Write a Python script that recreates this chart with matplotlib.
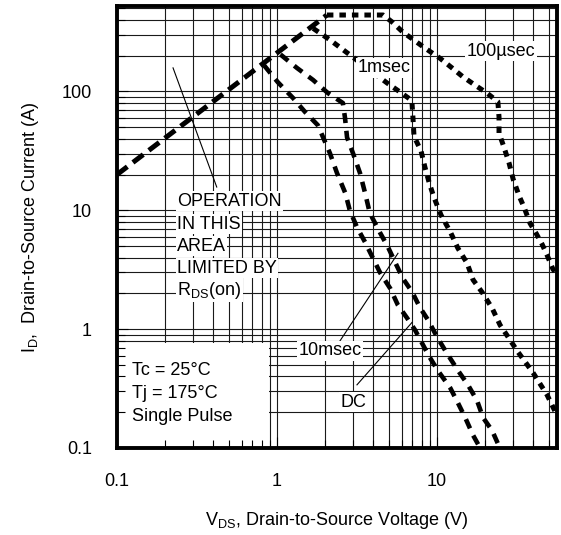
import numpy as np
import matplotlib.pyplot as plt
from matplotlib.patches import Rectangle

plt.rcParams['font.family'] = ['Liberation Sans', 'DejaVu Sans']
plt.rcParams['mathtext.default'] = 'regular'

# Safe operating area (V in volts, I in amps)
rds_v = [0.1, 2.05]
rds_i = [20, 440]

us100_v = [2.05, 4.6, 5.23, 6.1, 8.4, 10.4, 12.4, 14.5, 17.3, 20.5, 24.0, 24.4, 24.4,
           26.2, 28.2, 29.9, 32.6, 35.0, 38.1, 41.6, 45.3, 48.7, 53.0, 56.0]
us100_i = [440, 440, 385, 317, 232, 191, 158, 133, 113, 97, 82, 61, 44.7,
           34, 25, 18.3, 13.2, 10.6, 7.8, 6.4, 5.2, 4.2, 3.2, 2.9]

ms1_v = [1.68, 2.14, 2.7, 4.87, 5.87, 6.96, 7.08, 7.18, 7.95, 8.4, 8.95, 9.6, 10.6,
         12.1, 13.5, 15.4, 16.8, 19.1, 22.1, 24.8, 27.8, 31.6, 39.8, 48.7, 56.0]
ms1_i = [340, 272, 215, 118, 99, 84, 58.7, 42, 31.5, 23.1, 16.9, 12.7, 9.1,
         6.6, 4.8, 3.6, 2.6, 2.05, 1.5, 1.08, 0.86, 0.66, 0.43, 0.28, 0.19]

ms10_v = [1.05, 1.33, 1.68, 2.08, 2.58, 2.66, 2.74, 2.99, 3.3, 3.55, 3.8, 4.4, 4.94,
          5.47, 6.1, 7.0, 7.8, 8.8, 10.0, 11.5, 13.5, 15.6, 17.8, 19.4, 22.1, 24.0, 25.0]
ms10_i = [205, 158, 125, 97, 80, 60, 41, 30, 20.6, 14, 9.5, 6.5, 4.9,
          3.66, 2.69, 2.05, 1.53, 1.19, 0.86, 0.63, 0.45, 0.34, 0.25, 0.18, 0.14, 0.109, 0.1]

dc_v = [0.83, 1.01, 1.26, 1.5, 1.8, 2.14, 2.37, 2.67, 2.85, 3.16, 3.55, 3.98, 4.4,
        5.1, 5.7, 6.5, 7.3, 8.2, 9.0, 10.1, 12.1, 13.5, 15.0, 16.8, 18.6]
dc_i = [166, 120, 88, 67, 52, 30.3, 20.6, 14, 10, 7.2, 5.4, 3.95, 3.0,
        2.2, 1.59, 1.24, 0.98, 0.73, 0.58, 0.45, 0.32, 0.24, 0.18, 0.128, 0.10]

# leader lines: (text end, curve end)
lead_rds = ([0.224, 0.42], [158, 15.7])
lead_10ms = ([2.37, 5.7], [0.73, 4.35])
lead_dc = ([3.16, 6.98], [0.34, 1.14])

x_ticks = [0.1, 1, 10]
x_ticklabels = ['0.1', '1', '10']
y_ticks = [0.1, 1, 10, 100]
y_ticklabels = ['0.1', '1', '10', '100']

fig = plt.figure(figsize=(5.61, 5.35), dpi=100)
ax = fig.add_axes([117 / 561, 87 / 535, 440 / 561, 442 / 535])
ax.set_xscale('log')
ax.set_yscale('log')
ax.set_xlim(0.1, 56.2)
ax.set_ylim(0.1, 524)

# grid drawn by hand so the condition box can sit on top of it
for e in range(-1, 2):
    for k in range(1, 10):
        ax.axvline(k * 10.0 ** e, color='0.1', lw=0.8, zorder=1)
for e in range(-1, 3):
    for k in range(1, 10):
        ax.axhline(k * 10.0 ** e, color='0.1', lw=0.8, zorder=1)

ax.add_patch(Rectangle((0, 0), 0.345, 0.2376, transform=ax.transAxes,
                       facecolor='white', edgecolor='none', zorder=1.2))

kw = dict(color='black', solid_capstyle='butt', dash_capstyle='butt', zorder=2)
ax.plot(rds_v, rds_i, lw=3.6, ls=(0, (2.6, 1.4)), **kw)
ax.plot(us100_v, us100_i, lw=3.6, ls=(0, (1.3, 1.2)), **kw)
ax.plot(ms1_v, ms1_i, lw=3.6, ls=(0, (1.3, 1.2)), **kw)
ax.plot(ms10_v, ms10_i, lw=3.3, ls=(0, (2.2, 1.7)), **kw)
ax.plot(dc_v, dc_i, lw=3.3, ls=(0, (2.2, 1.7)), **kw)

for lv, li in (lead_rds, lead_10ms, lead_dc):
    ax.plot(lv, li, color='black', lw=0.8, zorder=2)

box = dict(facecolor='white', edgecolor='none', pad=1)
fs = 13
ax.text(4.66, 158, '1msec', fontsize=fs, ha='center', va='center', bbox=box, zorder=3)
ax.text(25.1, 219, '100µsec', fontsize=fs, ha='center', va='center', bbox=box, zorder=3)
ax.text(2.14, 0.66, '10msec', fontsize=fs, ha='center', va='center', bbox=box, zorder=3)
ax.text(2.99, 0.242, 'DC', fontsize=fs, ha='center', va='center', bbox=box, zorder=3)

area_lines = ['OPERATION', 'IN THIS', 'AREA', 'LIMITED BY', r'R$_{DS}$(on)']
area_y = [11.96, 7.65, 4.99, 3.26, 2.13]
for s, yy in zip(area_lines, area_y):
    ax.text(0.237, yy, s, fontsize=fs, ha='left', va='center', bbox=box, zorder=3)

cond_lines = ['Tc = 25°C', 'Tj = 175°C', 'Single Pulse']
cond_y = [0.176, 0.124, 0.071]
for s, yy in zip(cond_lines, cond_y):
    ax.text(0.034, yy, s, fontsize=fs, ha='left', va='center',
            transform=ax.transAxes, zorder=3)

ax.set_xticks(x_ticks)
ax.set_xticklabels(x_ticklabels)
ax.set_yticks(y_ticks)
ax.set_yticklabels(y_ticklabels)
ax.tick_params(which='both', direction='in', labelsize=fs, pad=18, color='black')
ax.tick_params(which='major', length=8, width=0.8)
ax.tick_params(which='minor', length=6, width=0.8, labelbottom=False, labelleft=False)

for sp in ax.spines.values():
    sp.set_linewidth(2.8)
    sp.set_zorder(4)

ax.set_xlabel(r'V$_{DS}$, Drain-to-Source Voltage (V)', fontsize=fs)
ax.xaxis.set_label_coords(0.5, -0.14)
ax.xaxis.label.set_va('top')
ax.set_ylabel(r'I$_{D}$,  Drain-to-Source Current (A)', fontsize=fs)
ax.yaxis.set_label_coords(-0.172, 0.5)

fig.savefig('out.png', dpi=100)
